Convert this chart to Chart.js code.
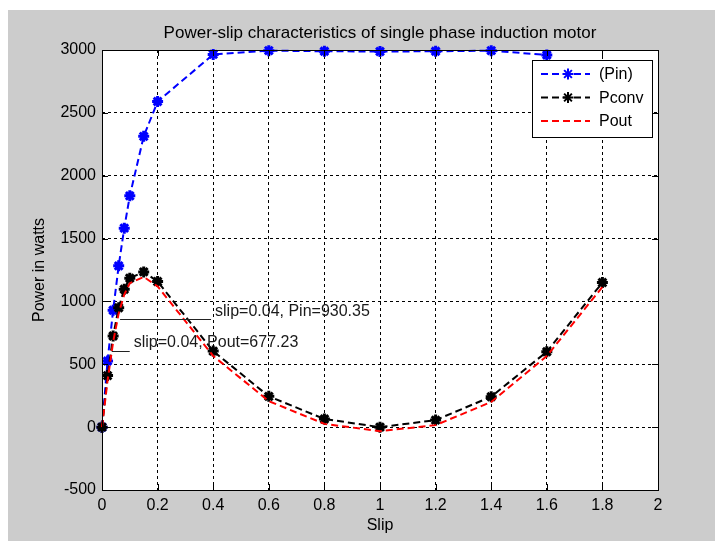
<!DOCTYPE html>
<html>
<head>
<meta charset="utf-8">
<script src="https://cdn.jsdelivr.net/npm/chart.js@4.4.1/dist/chart.umd.min.js"></script>
<style>
  html, body { margin: 0; padding: 0; background: #fff; }
</style>
</head>
<body>
<canvas id="myChart" width="715" height="541"></canvas>
<script>
// slip values where the motor was evaluated
const slip = [0, 0.02, 0.04, 0.06, 0.08, 0.1, 0.15, 0.2, 0.4, 0.6, 0.8, 1.0, 1.2, 1.4, 1.6, 1.8];
// Pin stops at 1.6 (last point sits under the legend)
const pin = [0, 526, 930, 1283, 1583, 1840, 2313, 2590, 2965, 2995, 2990, 2988, 2990, 2995, 2960];
const pconv = [0, 410, 725, 950, 1097, 1185, 1235, 1158, 605, 245, 65, 0, 56, 242, 600, 1150];
const pout = [0, 370, 677, 905, 1055, 1145, 1195, 1120, 566, 207, 26, -32, 16, 200, 566, 1115];

const seriesNames = ['(Pin)', 'Pconv', 'Pout'];
const xTickLabels = ['0', '0.2', '0.4', '0.6', '0.8', '1', '1.2', '1.4', '1.6', '1.8', '2'];
const yTickLabels = ['-500', '0', '500', '1000', '1500', '2000', '2500', '3000'];

const titleText = 'Power-slip characteristics of single phase induction motor';
const noteText = ['slip=0.04, Pin=930.35', 'slip=0.04, Pout=677.23'];
const noteX = [0.065, 0.035];
const noteY = [930.35, 677.23];

const FONT = 'Liberation Sans, Arial, sans-serif';
Chart.defaults.color = '#000';
Chart.defaults.font.family = FONT;
Chart.defaults.font.size = 16;

const toPoints = (ys) => ys.map((y, i) => ({x: slip[i], y: y}));

// grey figure background + white axes face
const background = {
  id: 'background',
  beforeDraw(chart) {
    const {ctx, chartArea: a} = chart;
    ctx.save();
    ctx.fillStyle = '#fff';
    ctx.fillRect(0, 0, chart.width, chart.height);
    ctx.fillStyle = '#cccccc';
    ctx.fillRect(8, 10, chart.width - 8, chart.height - 10);
    ctx.fillStyle = '#fff';
    ctx.fillRect(a.left, a.top, a.right - a.left, a.bottom - a.top);
    ctx.restore();
  }
};

// box with inward ticks, title, text notes and the legend, like matlab draws them
const matlabBits = {
  id: 'matlabBits',
  afterDraw(chart) {
    const {ctx, chartArea: a, scales} = chart;
    const xs = scales.x, ys = scales.y;
    ctx.save();
    ctx.strokeStyle = '#000';
    ctx.lineWidth = 1;
    ctx.setLineDash([]);
    ctx.beginPath();
    xs.ticks.forEach(t => {
      const px = Math.round(xs.getPixelForValue(t.value)) + 0.5;
      ctx.moveTo(px, a.bottom); ctx.lineTo(px, a.bottom - 6);
      ctx.moveTo(px, a.top); ctx.lineTo(px, a.top + 6);
    });
    ys.ticks.forEach(t => {
      const py = Math.round(ys.getPixelForValue(t.value)) + 0.5;
      ctx.moveTo(a.left, py); ctx.lineTo(a.left + 6, py);
      ctx.moveTo(a.right, py); ctx.lineTo(a.right - 6, py);
    });
    ctx.stroke();
    ctx.strokeRect(Math.round(a.left) + 0.5, Math.round(a.top) + 0.5,
      Math.round(a.right - a.left), Math.round(a.bottom - a.top));

    // title, centred over the axes
    ctx.fillStyle = '#000';
    ctx.textAlign = 'center';
    ctx.textBaseline = 'middle';
    ctx.font = '17px ' + FONT;
    ctx.fillText(titleText, (a.left + a.right) / 2, a.top - 17);

    // notes
    const leads = [91, 18];
    ctx.font = '16px ' + FONT;
    ctx.textAlign = 'left';
    noteText.forEach((txt, i) => {
      const px = xs.getPixelForValue(noteX[i]);
      const py = ys.getPixelForValue(noteY[i]);
      ctx.strokeStyle = '#222';
      ctx.beginPath();
      ctx.moveTo(px, Math.round(py + 9) + 0.5);
      ctx.lineTo(px + leads[i], Math.round(py + 9) + 0.5);
      ctx.stroke();
      ctx.fillStyle = '#1a1a1a';
      ctx.fillText(txt, px + leads[i] + 4, py + 1);
    });

    // legend
    const lx = a.right - 126, ly = a.top + 10, lw = 120, lh = 77;
    ctx.fillStyle = '#fff';
    ctx.fillRect(lx, ly, lw, lh);
    ctx.strokeStyle = '#000';
    ctx.strokeRect(lx + 0.5, ly + 0.5, lw, lh);
    chart.data.datasets.forEach((ds, i) => {
      const ey = ly + 14 + i * 23.5;
      ctx.strokeStyle = ds.borderColor;
      ctx.lineWidth = 2;
      ctx.setLineDash(ds.borderDash);
      ctx.beginPath();
      ctx.moveTo(lx + 9, ey); ctx.lineTo(lx + 58, ey);
      ctx.stroke();
      ctx.setLineDash([]);
      if (ds.pointRadius > 0) {
        ctx.fillStyle = ds.borderColor;
        Chart.helpers.drawPoint(ctx, {pointStyle: 'star', radius: ds.pointRadius,
          borderWidth: ds.pointBorderWidth, rotation: 0}, lx + 36, ey);
      }
      ctx.fillStyle = '#000';
      ctx.fillText(ds.label, lx + 67, ey + 1);
    });
    ctx.restore();
  }
};

const lineSet = (label, ys, color, marker, order) => ({
  label: label,
  data: toPoints(ys),
  borderColor: color,
  backgroundColor: color,
  borderWidth: 2,
  borderDash: [7, 4],
  pointStyle: 'star',
  pointRadius: marker ? 5.5 : 0,
  pointBorderWidth: 3,
  pointBorderColor: color,
  pointBackgroundColor: color,
  tension: 0,
  clip: 8,
  order: order
});

const myChart = document.getElementById('myChart').getContext('2d');
const displayChart = new Chart(myChart, {
  type: 'scatter',
  data: {
    datasets: [
      lineSet(seriesNames[0], pin, '#0000ff', true, 3),
      lineSet(seriesNames[1], pconv, '#000000', true, 2),
      lineSet(seriesNames[2], pout, '#ff0000', false, 1)
    ]
  },
  options: {
    responsive: false,
    animation: false,
    showLine: true,
    layout: {padding: {left: 0, right: 57, top: 50, bottom: 0}},
    plugins: {
      legend: {display: false},
      tooltip: {enabled: false},
      title: {display: false}
    },
    scales: {
      x: {
        type: 'linear',
        min: 0,
        max: 2,
        afterFit: (scale) => { scale.height = 51; },
        ticks: {
          stepSize: 0.2,
          padding: 6,
          maxRotation: 0,
          autoSkip: false,
          callback: (v, i) => xTickLabels[i]
        },
        grid: {color: '#000', lineWidth: 1, drawTicks: false},
        border: {display: false, dash: [3, 3]},
        title: {display: true, text: 'Slip', padding: {top: 0, bottom: 6}}
      },
      y: {
        type: 'linear',
        min: -500,
        max: 3000,
        afterFit: (scale) => { scale.width = 102; },
        ticks: {
          stepSize: 500,
          padding: 6,
          autoSkip: false,
          callback: (v, i) => yTickLabels[i]
        },
        grid: {color: '#000', lineWidth: 1, drawTicks: false},
        border: {display: false, dash: [3, 3]},
        title: {display: true, text: 'Power in watts', padding: {top: 30, bottom: 0}}
      }
    }
  },
  plugins: [background, matlabBits]
});
</script>
</body>
</html>
